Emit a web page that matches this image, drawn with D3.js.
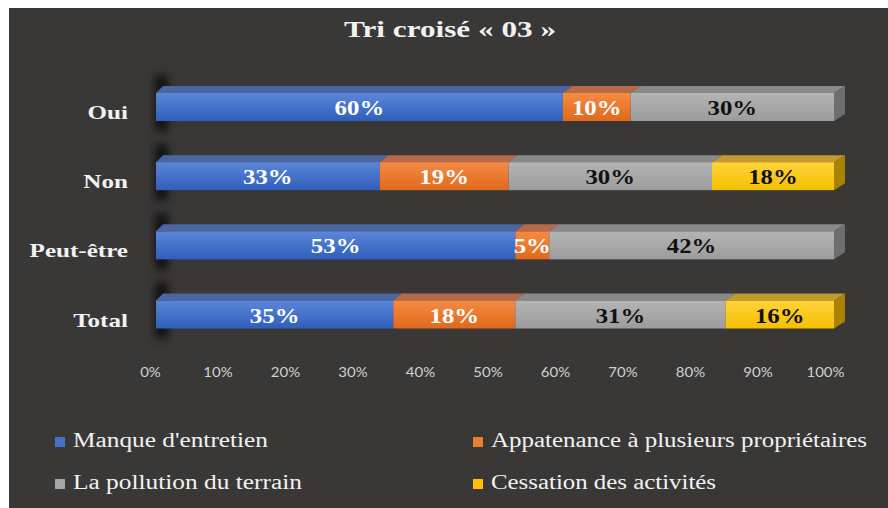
<!DOCTYPE html>
<html>
<head>
<meta charset="utf-8">
<script src="https://cdn.jsdelivr.net/npm/d3@7"></script>
<style>
  html, body { margin: 0; padding: 0; background: #ffffff; }
  svg { display: block; }
</style>
</head>
<body>
<svg id="chart" width="888" height="508"></svg>
<script>
const categories = ["Oui", "Non", "Peut-être", "Total"];
const seriesNames = ["Manque d'entretien", "Appatenance à plusieurs propriétaires", "La pollution du terrain", "Cessation des activités"];
const manque = [60, 33, 53, 35];
const appartenance = [10, 19, 5, 18];
const pollution = [30, 30, 42, 31];
const cessation = [0, 18, 0, 16];
const tickValues = [0, 10, 20, 30, 40, 50, 60, 70, 80, 90, 100];
const titleText = "Tri croisé « 03 »";

// colours per series: front top / front bottom / top face / side face / label
const styles = [
    {front: ["#5b86d8", "#2f5ebd"], top: "#4a66a0", side: "#34508a", label: "#ffffff", legend: "#4472c4"},
    {front: ["#f48b44", "#e0691b"], top: "#b66a48", side: "#a45418", label: "#ffffff", legend: "#ed7d31"},
    {front: ["#b4b4b4", "#9c9c9c"], top: "#898989", side: "#6e6e6e", label: "#111111", legend: "#a5a5a5"},
    {front: ["#ffd33a", "#f6bf00"], top: "#c39a30", side: "#a98200", label: "#111111", legend: "#ffc000"}
];

const table = categories.map((c, i) => ({
    cat: c,
    s0: manque[i], s1: appartenance[i], s2: pollution[i], s3: cessation[i]
}));
const keys = ["s0", "s1", "s2", "s3"];
const stacked = d3.stack().keys(keys)(table);

const svg = d3.select("#chart");
const defs = svg.append("defs");

// stretch text horizontally (the source picture is widened)
function stretch(sel, k) {
    sel.each(function() {
        const w = this.getComputedTextLength();
        d3.select(this).attr("textLength", w * k).attr("lengthAdjust", "spacingAndGlyphs");
    });
}

svg.append("rect")
    .attr("x", 9).attr("y", 8)
    .attr("width", 879).attr("height", 500)
    .attr("fill", "#3a3837");

styles.forEach((s, i) => {
    const g = defs.append("linearGradient")
        .attr("id", "front" + i)
        .attr("x1", 0).attr("y1", 0).attr("x2", 0).attr("y2", 1);
    g.append("stop").attr("offset", "0%").attr("stop-color", s.front[0]);
    g.append("stop").attr("offset", "100%").attr("stop-color", s.front[1]);
});
defs.append("filter").attr("id", "blur")
    .attr("x", "-100%").attr("y", "-30%").attr("width", "300%").attr("height", "160%")
    .append("feGaussianBlur").attr("stdDeviation", 4.5);

const x = d3.scaleLinear().domain([0, 100]).range([156, 834]);
const xAxisScale = d3.scaleLinear().domain([0, 100]).range([150, 825]);
const y = d3.scalePoint().domain(categories).range([107, 314.5]);
const depthX = d3.scaleLinear().domain([0, 100]).range([7, 11]);
const depthY = 7;
const barH = 28;

// title
svg.append("text")
    .attr("x", 450).attr("y", 37)
    .attr("text-anchor", "middle")
    .attr("font-family", "'Liberation Serif', 'Times New Roman', serif")
    .attr("font-weight", "bold")
    .attr("font-size", 24)
    .attr("fill", "#f2f2f2")
    .attr("textLength", 212)
    .attr("lengthAdjust", "spacingAndGlyphs")
    .text(titleText);

// wall shadow behind the left end of the bars
svg.append("g").selectAll("rect")
    .data(categories)
    .join("rect")
    .attr("x", 155)
    .attr("y", d => y(d) - barH / 2 - 18)
    .attr("width", 13)
    .attr("height", barH + 28)
    .attr("fill", "#000")
    .attr("opacity", 0.7)
    .attr("filter", "url(#blur)");

// bars
const bars = svg.append("g");
stacked.forEach((layer, si) => {
    const st = styles[si];
    layer.forEach((d, ci) => {
        if (d[1] - d[0] <= 0) return;
        const cy = y(categories[ci]);
        const yT = cy - barH / 2, yB = cy + barH / 2;
        const x0 = x(d[0]), x1 = x(d[1]);
        const g = bars.append("g");
        g.append("polygon")
            .attr("points", [
                [x0, yT], [x1, yT],
                [x1 + depthX(d[1]), yT - depthY], [x0 + depthX(d[0]), yT - depthY]
            ].join(" "))
            .attr("fill", st.top);
        if (d[1] >= 100) {
            g.append("polygon")
                .attr("points", [
                    [x1, yT], [x1 + depthX(d[1]), yT - depthY],
                    [x1 + depthX(d[1]), yB - depthY], [x1, yB]
                ].join(" "))
                .attr("fill", st.side);
        }
        g.append("rect")
            .attr("x", x0).attr("y", yT)
            .attr("width", x1 - x0).attr("height", barH)
            .attr("fill", "url(#front" + si + ")");
    });
});

// value labels
const labels = svg.append("g")
    .attr("font-family", "'Liberation Serif', 'Times New Roman', serif")
    .attr("font-weight", "bold")
    .attr("font-size", 21)
    .attr("text-anchor", "middle");
stacked.forEach((layer, si) => {
    layer.forEach((d, ci) => {
        const v = d[1] - d[0];
        if (v <= 0) return;
        labels.append("text")
            .attr("x", (x(d[0]) + x(d[1])) / 2)
            .attr("y", y(categories[ci]) + 8)
            .attr("fill", styles[si].label)
            .text(v + "%")
            .call(stretch, 1.18);
    });
});

// category labels
svg.append("g").selectAll("text")
    .data(categories)
    .join("text")
    .attr("x", 128)
    .attr("y", d => y(d) + 12)
    .attr("text-anchor", "end")
    .attr("font-family", "'Liberation Serif', 'Times New Roman', serif")
    .attr("font-weight", "bold")
    .attr("font-size", 19)
    .attr("fill", "#f2f2f2")
    .text(d => d)
    .call(stretch, 1.32);

// x axis labels
const axis = svg.append("g")
    .attr("transform", "translate(0,377)")
    .call(d3.axisBottom(xAxisScale).tickValues(tickValues).tickSize(0).tickFormat(d => d + "%"));
axis.select(".domain").remove();
axis.selectAll("text")
    .attr("y", 0).attr("dy", 0)
    .attr("font-family", "Lato, 'Open Sans', sans-serif")
    .attr("font-size", 13)
    .attr("fill", "#d0d0d0")
    .call(stretch, 1.15);

// legend
const legendPos = [[55, 437], [473, 437], [55, 479], [473, 479]];
const legendWidths = [195, 376, 229, 225];
const legend = svg.append("g")
    .selectAll("g")
    .data(seriesNames)
    .join("g")
    .attr("transform", (d, i) => `translate(${legendPos[i][0]},${legendPos[i][1]})`);
legend.append("rect")
    .attr("width", 10).attr("height", 10)
    .attr("fill", (d, i) => styles[i].legend);
legend.append("text")
    .attr("x", 18).attr("y", 10)
    .attr("font-family", "'Liberation Serif', 'Times New Roman', serif")
    .attr("font-size", 20)
    .attr("fill", "#f2f2f2")
    .attr("textLength", (d, i) => legendWidths[i])
    .attr("lengthAdjust", "spacingAndGlyphs")
    .text(d => d);
</script>
</body>
</html>
